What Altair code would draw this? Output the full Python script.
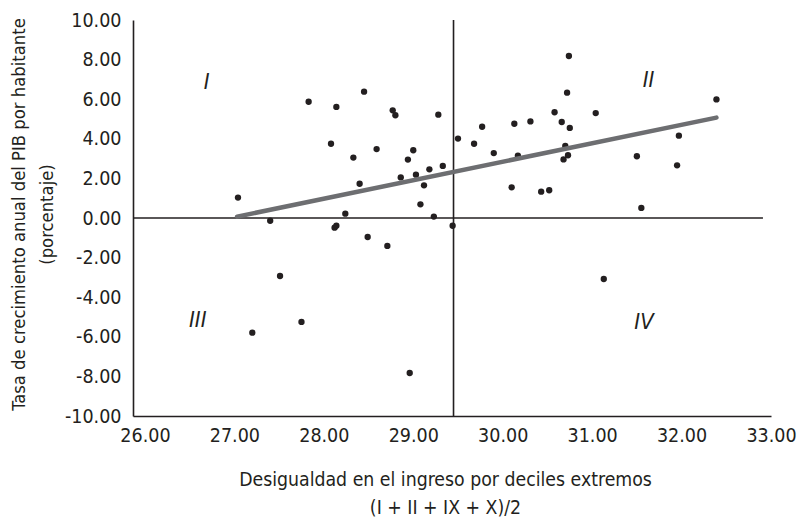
import altair as alt
import pandas as pd

# Data
ingreso = [27.04, 27.40, 27.51, 27.20, 27.75, 27.83, 28.14, 28.45, 28.77, 28.80,
           29.28, 28.08, 28.33, 28.59, 29.00, 28.94, 28.40, 28.86, 29.03, 29.12,
           29.18, 29.33, 29.08, 28.24, 29.23, 28.12, 28.14, 28.49, 28.71, 29.44,
           28.96, 29.50, 29.68, 29.77, 29.90, 30.13, 30.31, 30.58, 30.66, 30.75,
           30.17, 30.10, 30.43, 30.52, 30.74, 30.72, 31.04, 32.39, 30.70, 30.73,
           30.68, 31.50, 31.97, 31.95, 31.55, 31.13]
crecimiento = [1.03, -0.14, -2.93, -5.79, -5.25, 5.87, 5.61, 6.38, 5.44, 5.19,
               5.22, 3.75, 3.05, 3.48, 3.42, 2.95, 1.73, 2.05, 2.19, 1.65,
               2.46, 2.63, 0.69, 0.22, 0.07, -0.49, -0.39, -0.96, -1.41, -0.39,
               -7.83, 4.01, 3.75, 4.61, 3.28, 4.76, 4.88, 5.34, 4.85, 4.55,
               3.15, 1.55, 1.33, 1.40, 8.18, 6.33, 5.30, 5.99, 3.64, 3.17,
               2.96, 3.12, 4.16, 2.66, 0.51, -3.08]

trend_x = [27.03, 32.39]
trend_y = [0.07, 5.07]

quad_labels = ["I", "II", "III", "IV"]
quad_x = [26.69, 31.63, 26.59, 31.58]
quad_y = [6.87, 6.97, -5.15, -5.25]

x_ticks = [26, 27, 28, 29, 30, 31, 32, 33]
y_ticks = [-10, -8, -6, -4, -2, 0, 2, 4, 6, 8, 10]
x_domain = [25.866, 33.0]
y_domain = [-10, 10]
x_mean = 29.45
zero_line_end = 32.91

FONT = "Liberation Sans Narrow, Arial Narrow, DejaVu Sans Condensed, sans-serif"
INK = "#231f20"
LABEL_EXPR = "(datum.value < 0 ? '-' : '') + format(abs(datum.value), '.2f')"

pts = pd.DataFrame({"x": ingreso, "y": crecimiento})
trend = pd.DataFrame({"x": trend_x, "y": trend_y})
quads = pd.DataFrame({"label": quad_labels, "x": quad_x, "y": quad_y})
vline = pd.DataFrame({"x": [x_mean], "y": [y_domain[0]], "y2": [y_domain[1]]})
hline = pd.DataFrame({"x": [x_domain[0]], "x2": [zero_line_end], "y": [0]})

xscale = alt.Scale(domain=x_domain, nice=False, zero=False)
yscale = alt.Scale(domain=y_domain, nice=False)

xaxis = alt.Axis(
    values=x_ticks, labelExpr=LABEL_EXPR, ticks=False, grid=False,
    domainColor=INK, domainWidth=1.6, labelOverlap=False, labelFlush=False,
    labelFont=FONT, labelFontSize=19.5, labelColor=INK, labelPadding=10,
    title=["Desigualdad en el ingreso por deciles extremos", "(I + II + IX + X)/2"],
    titleFont=FONT, titleFontSize=19.3, titleFontWeight="normal", titleColor=INK,
    titleLineHeight=28, titleX=312, titleY=69, titleAlign="center",
    titleBaseline="alphabetic",
)
yaxis = alt.Axis(
    values=y_ticks, labelExpr=LABEL_EXPR, ticks=False, grid=False,
    domainColor=INK, domainWidth=1.6, labelOverlap=False, labelFlush=False,
    labelFont=FONT, labelFontSize=19.5, labelColor=INK, labelPadding=12,
    labelBaseline="middle",
    title=["Tasa de crecimiento anual del PIB por habitante", "(porcentaje)"],
    titleFont=FONT, titleFontSize=18.3, titleFontWeight="normal", titleColor=INK,
    titleLineHeight=28, titleX=-109, titleY=194, titleAlign="center",
    titleBaseline="alphabetic", titleAngle=270,
)

X = alt.X("x:Q", scale=xscale, axis=xaxis)
Y = alt.Y("y:Q", scale=yscale, axis=yaxis)

base_pts = alt.Chart(pts).mark_circle(size=40, color=INK, opacity=1).encode(x=X, y=Y)

v_rule = alt.Chart(vline).mark_rule(color=INK, strokeWidth=1.6).encode(
    x=X, y=Y, y2="y2:Q"
)
h_rule = alt.Chart(hline).mark_rule(color=INK, strokeWidth=1.6).encode(
    x=X, x2="x2:Q", y=Y
)
trend_line = alt.Chart(trend).mark_line(color="#6d6e71", strokeWidth=4.5, strokeCap="round").encode(
    x=X, y=Y
)
quad_text = alt.Chart(quads).mark_text(
    font=FONT, fontSize=22, fontStyle="italic", color=INK, align="center", baseline="middle"
).encode(x=X, y=Y, text="label:N")

chart = alt.layer(base_pts, v_rule, h_rule, trend_line, quad_text).properties(
    width=638, height=396,
    autosize=alt.AutoSizeParams(type="none"),
    padding={"left": 133, "top": 20, "right": 34, "bottom": 107},
    background="white",
).configure_view(stroke=None).configure_axis(labelOverlap=False)

chart.save("out.html", embed_options={"renderer": "svg", "actions": False})
